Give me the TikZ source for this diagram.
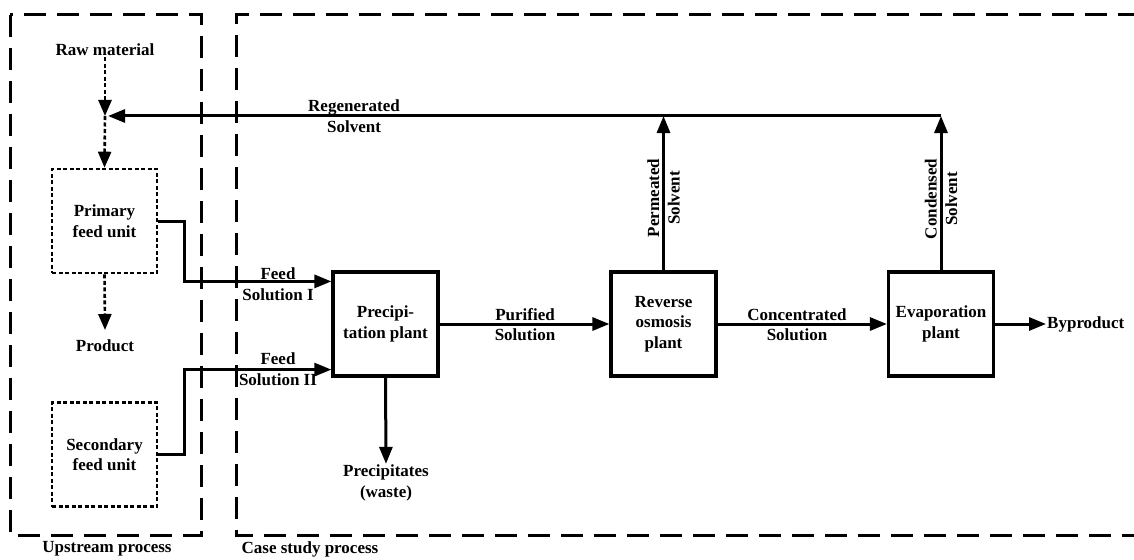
\documentclass[tikz,border=0pt]{standalone}
\usepackage{fontspec}
\setmainfont{Liberation Serif}
\usetikzlibrary{arrows.meta}
\begin{document}
\begin{tikzpicture}[x=1pt,y=-1pt,
  font=\fontsize{17}{20.5}\selectfont\bfseries,
  region/.style={line width=3pt, dash pattern=on 22pt off 11pt},
  unitbox/.style={draw, line width=2.6pt, dash pattern=on 4pt off 2.5pt,
    minimum width=105pt, minimum height=104pt, align=center, inner sep=0pt},
  plantbox/.style={draw, line width=3.2pt, minimum width=105pt,
    minimum height=104pt, align=center, inner sep=0pt},
  flow/.style={line width=3pt, -{Triangle[length=17pt,width=13pt]}},
  dflow/.style={line width=2.6pt, dash pattern=on 4pt off 2.5pt,
    -{Triangle[length=16pt,width=13pt]}},
  lbl/.style={align=center, inner sep=1pt}]
\useasboundingbox (0,0) rectangle (1134,559);

% process regions
\draw[region] (10,15) rectangle (201,535);
\draw[region] (1140,15) -- (236,15) -- (236,535) -- (1140,535);
\node[lbl] (upl) at (107,549) {Upstream process};
\node[lbl] (csl) at (310,549) {Case study process};

% upstream units
\node[lbl] (raw) at (105,50) {Raw material};
\coordinate (jn) at (105,116);
\node[unitbox] (prim) at (104.5,221) {Primary\\feed unit};
\node[lbl] (prod) at (105,346) {Product};
\node[unitbox] (sec) at (104.5,454.5) {Secondary\\feed unit};

% plants
\node[plantbox] (prec) at (385.5,324) {Precipi-\\tation plant};
\node[plantbox] (ro) at (663.5,324) {Reverse\\osmosis\\plant};
\node[plantbox] (evap) at (941,324) {Evaporation\\plant};
\node[lbl, anchor=west] (byp) at (1046,324) {Byproduct};
\node[lbl] (waste) at (386,483) {Precipitates\\(waste)};

\coordinate (rotop) at (663.5,116);
\coordinate (evtop) at (941,116);

% upstream flows
\draw[dflow] (raw.south) -- (jn);
\draw[dflow] (jn) -- (prim.north);
\draw[dflow] (prim.south) -- (105,330) coordinate (prodtip);

% feeds
\draw[flow] (prim.east) -- ++(26,0) |- ([yshift=-11pt]prec.north west);
\draw[flow] (sec.east) -- ++(26,0) |- ([yshift=8pt]prec.south west);
\node[lbl] (f1) at (278,284) {Feed\\Solution I};
\node[lbl] (f2) at (278,369) {Feed\\Solution II};

% main line
\draw[flow] (prec.east) -- (ro.west);
\node[lbl] (pur) at (525,324.5) {Purified\\Solution};
\draw[flow] (ro.east) -- (evap.west);
\node[lbl] (conc) at (797,324.5) {Concentrated\\Solution};
\draw[flow] (evap.east) -- (byp.west);
\draw[flow] (prec.south) -- (waste.north);

% solvent recycle
\draw[flow] (ro.north) -- (rotop);
\draw[flow] (evap.north) -- (evtop);
\draw[flow, shorten >=3pt] (evtop) -- (jn);
\node[lbl, rotate=90] (perm) at (663.5,198) {Permeated\\Solvent};
\node[lbl, rotate=90] (cond) at (941,199) {Condensed\\Solvent};
\node[lbl] (regen) at (354,116) {Regenerated\\Solvent};
\end{tikzpicture}
\end{document}
